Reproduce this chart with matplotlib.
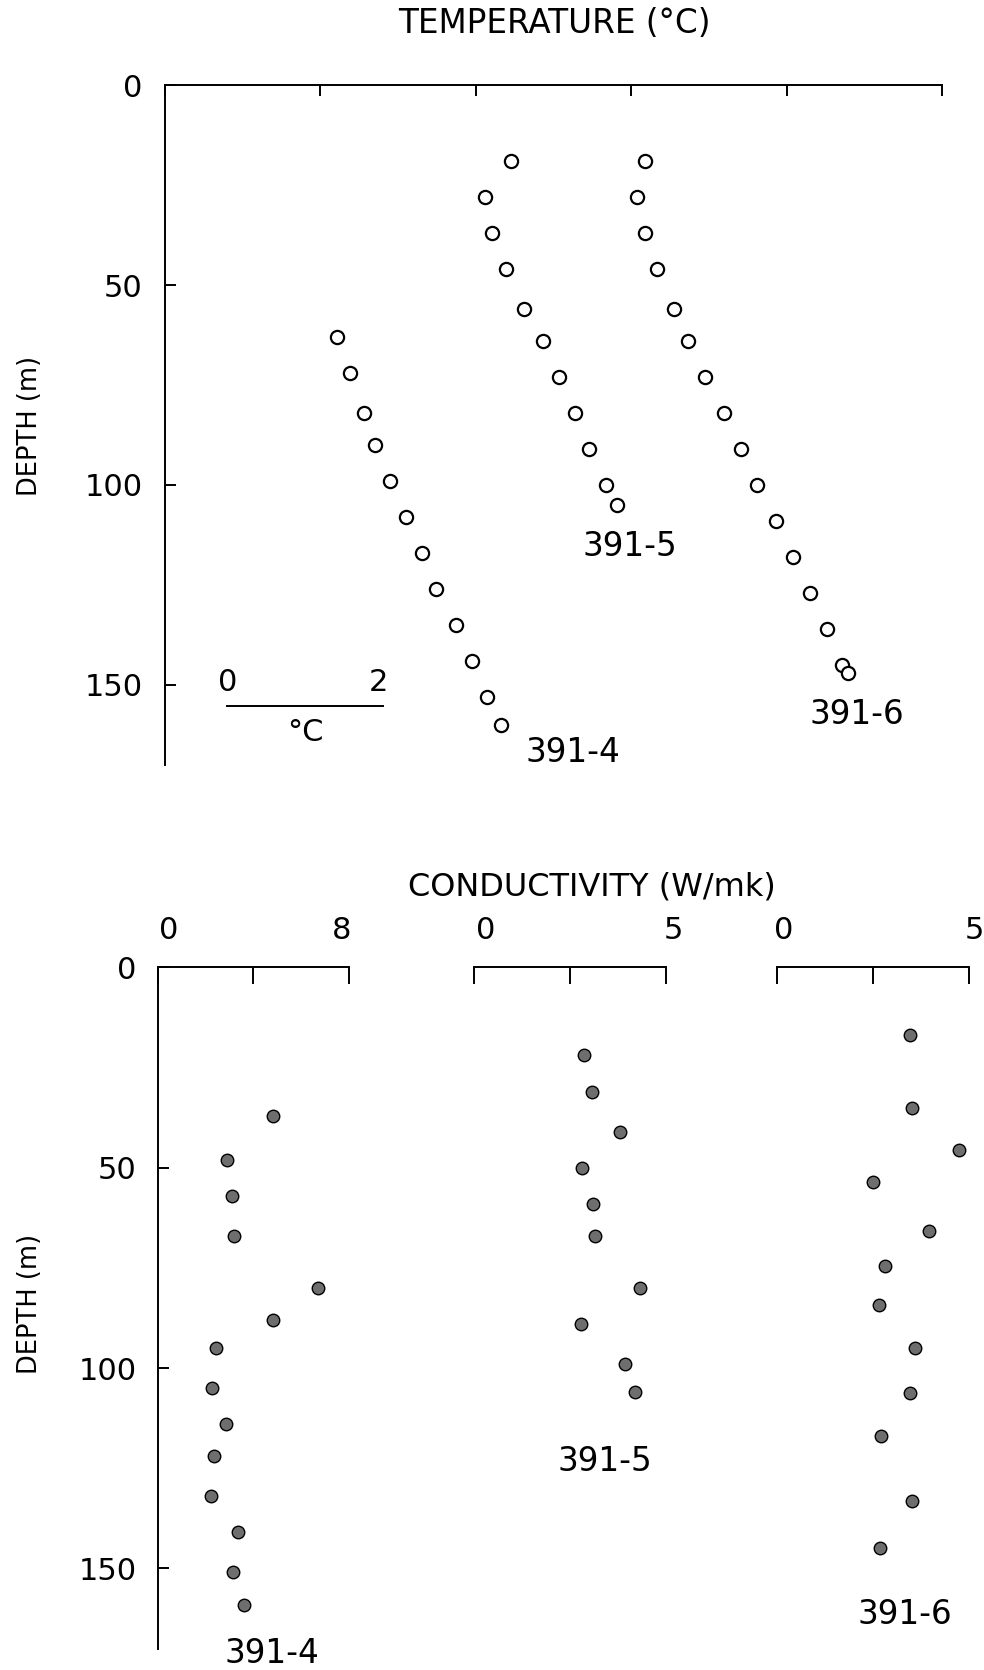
import matplotlib
matplotlib.use("Agg")
import matplotlib.pyplot as plt

plt.rcParams["font.family"] = ["DejaVu Sans"]

# temperature profiles, relative degC vs depth (m)
t4_depth = [63, 72, 82, 90, 99, 108, 117, 126, 135, 144, 153, 160]
t4_temp = [2.21, 2.38, 2.56, 2.70, 2.90, 3.10, 3.30, 3.49, 3.74, 3.95, 4.14, 4.32]
t5_depth = [19, 28, 37, 46, 56, 64, 73, 82, 91, 100, 105]
t5_temp = [4.45, 4.11, 4.21, 4.38, 4.62, 4.86, 5.07, 5.27, 5.45, 5.67, 5.82]
t6_depth = [19, 28, 37, 46, 56, 64, 73, 82, 91, 100, 109, 118, 127, 136, 145, 147]
t6_temp = [6.18, 6.07, 6.18, 6.33, 6.55, 6.73, 6.95, 7.19, 7.41, 7.62, 7.86,
           8.08, 8.30, 8.51, 8.71, 8.78]

# conductivity profiles, W/mK vs depth (m)
k4_depth = [37, 48, 57, 67, 80, 88, 95, 105, 114, 122, 132, 141, 151, 159]
k4_cond = [4.8, 2.9, 3.1, 3.2, 6.7, 4.8, 2.45, 2.25, 2.85, 2.35, 2.22, 3.35, 3.15, 3.6]
k5_depth = [22, 31, 41, 50, 59, 67, 80, 89, 99, 106]
k5_cond = [2.88, 3.08, 3.8, 2.83, 3.1, 3.15, 4.33, 2.78, 3.94, 4.21]
k6_depth = [17, 35, 45.5, 53.7, 65.7, 74.6, 84.2, 95, 106.2, 116.9, 133.2, 144.9]
k6_cond = [3.46, 3.5, 4.73, 2.5, 3.95, 2.8, 2.64, 3.58, 3.45, 2.71, 3.52, 2.68]

depth_ticks = [0, 50, 100, 150]
k_max = [8, 5, 5]
# where the "0" and max labels sit over each conductivity scale
k_label_x = [(0.45, 7.67), (0.3, 5.2), (0.17, 5.13)]

LW = 1.4
FS = 22
LAB_FS = 23.5

fig = plt.figure(figsize=(9.84, 16.7), dpi=100)

# ---- temperature panel ----
ax = fig.add_axes([0.1677, 0.542, 0.790, 0.407])
for t, d in [(t4_temp, t4_depth), (t5_temp, t5_depth), (t6_temp, t6_depth)]:
    ax.plot(t, d, "o", ms=9.5, mfc="white", mec="black", mew=1.6, clip_on=False)
ax.set_xlim(0, 10)
ax.set_ylim(170, 0)
for s in ["right", "bottom"]:
    ax.spines[s].set_visible(False)
for s in ["left", "top"]:
    ax.spines[s].set_linewidth(LW)
ax.set_xticks([0, 2, 4, 6, 8, 10])
ax.tick_params(axis="x", top=True, bottom=False, labeltop=False, labelbottom=False,
               direction="in", length=8, width=LW)
ax.set_yticks(depth_ticks)
ax.set_yticklabels([str(v) for v in depth_ticks])
ax.tick_params(axis="y", direction="in", length=8, width=LW, pad=16, labelsize=FS)
ax.text(5.98, 115.5, "391-5", fontsize=LAB_FS, ha="center", va="center")
ax.text(8.9, 157.5, "391-6", fontsize=LAB_FS, ha="center", va="center")
ax.text(5.25, 167, "391-4", fontsize=LAB_FS, ha="center", va="center", clip_on=False)
# scale bar
ax.plot([0.8, 2.8], [155.3, 155.3], color="black", lw=LW)
ax.text(0.8, 149.4, "0", fontsize=FS, ha="center", va="center")
ax.text(2.75, 149.4, "2", fontsize=FS, ha="center", va="center")
ax.text(1.8, 162, "°C", fontsize=FS, ha="center", va="center")

fig.text(0.563, 0.986, "TEMPERATURE (°C)", fontsize=23.5, ha="center", va="center")
fig.text(0.030, 0.745, "DEPTH (m)", fontsize=18.5, ha="center", va="center", rotation=90)

# ---- conductivity panel ----
axb = fig.add_axes([0.1602, 0.0128, 0.825, 0.408])
axb.set_ylim(170, 0)
axb.set_xticks([])
for s in ["right", "bottom", "top"]:
    axb.spines[s].set_visible(False)
axb.spines["left"].set_linewidth(LW)
axb.set_yticks(depth_ticks)
axb.set_yticklabels([str(v) for v in depth_ticks])
axb.tick_params(axis="y", direction="in", length=8, width=LW, pad=15, labelsize=FS)

lefts = [0.1602, 0.4817, 0.7901]
profiles = [(k4_cond, k4_depth), (k5_cond, k5_depth), (k6_cond, k6_depth)]
labels = ["391-4", "391-5", "391-6"]
label_pos = [(4.75, 171.2), (3.42, 123.4), (3.33, 161.4)]
for left, xmax, (k, d), lab, (lx, ly), (x0, x1) in zip(
        lefts, k_max, profiles, labels, label_pos, k_label_x):
    sub = fig.add_axes([left, 0.0128, 0.1948, 0.408])
    sub.patch.set_visible(False)
    sub.plot(k, d, "o", ms=9, mfc="#6e6e6e", mec="black", mew=1.0, clip_on=False)
    sub.set_xlim(0, xmax)
    sub.set_ylim(170, 0)
    sub.set_yticks([])
    for s in ["right", "bottom", "left"]:
        sub.spines[s].set_visible(False)
    sub.spines["top"].set_linewidth(LW)
    sub.set_xticks([0, xmax / 2, xmax])
    sub.tick_params(axis="x", top=True, bottom=False, labeltop=False, labelbottom=False,
                    direction="in", length=12, width=LW)
    sub.text(x0, -9.2, "0", fontsize=FS, ha="center", va="center", clip_on=False)
    sub.text(x1, -9.2, str(xmax), fontsize=FS, ha="center", va="center", clip_on=False)
    sub.text(lx, ly, lab, fontsize=LAB_FS, ha="center", va="center", clip_on=False)

fig.text(0.601, 0.469, "CONDUCTIVITY (W/mk)", fontsize=23, ha="center", va="center")
fig.text(0.030, 0.219, "DEPTH (m)", fontsize=18.5, ha="center", va="center", rotation=90)

fig.savefig("out.png", dpi=100)
